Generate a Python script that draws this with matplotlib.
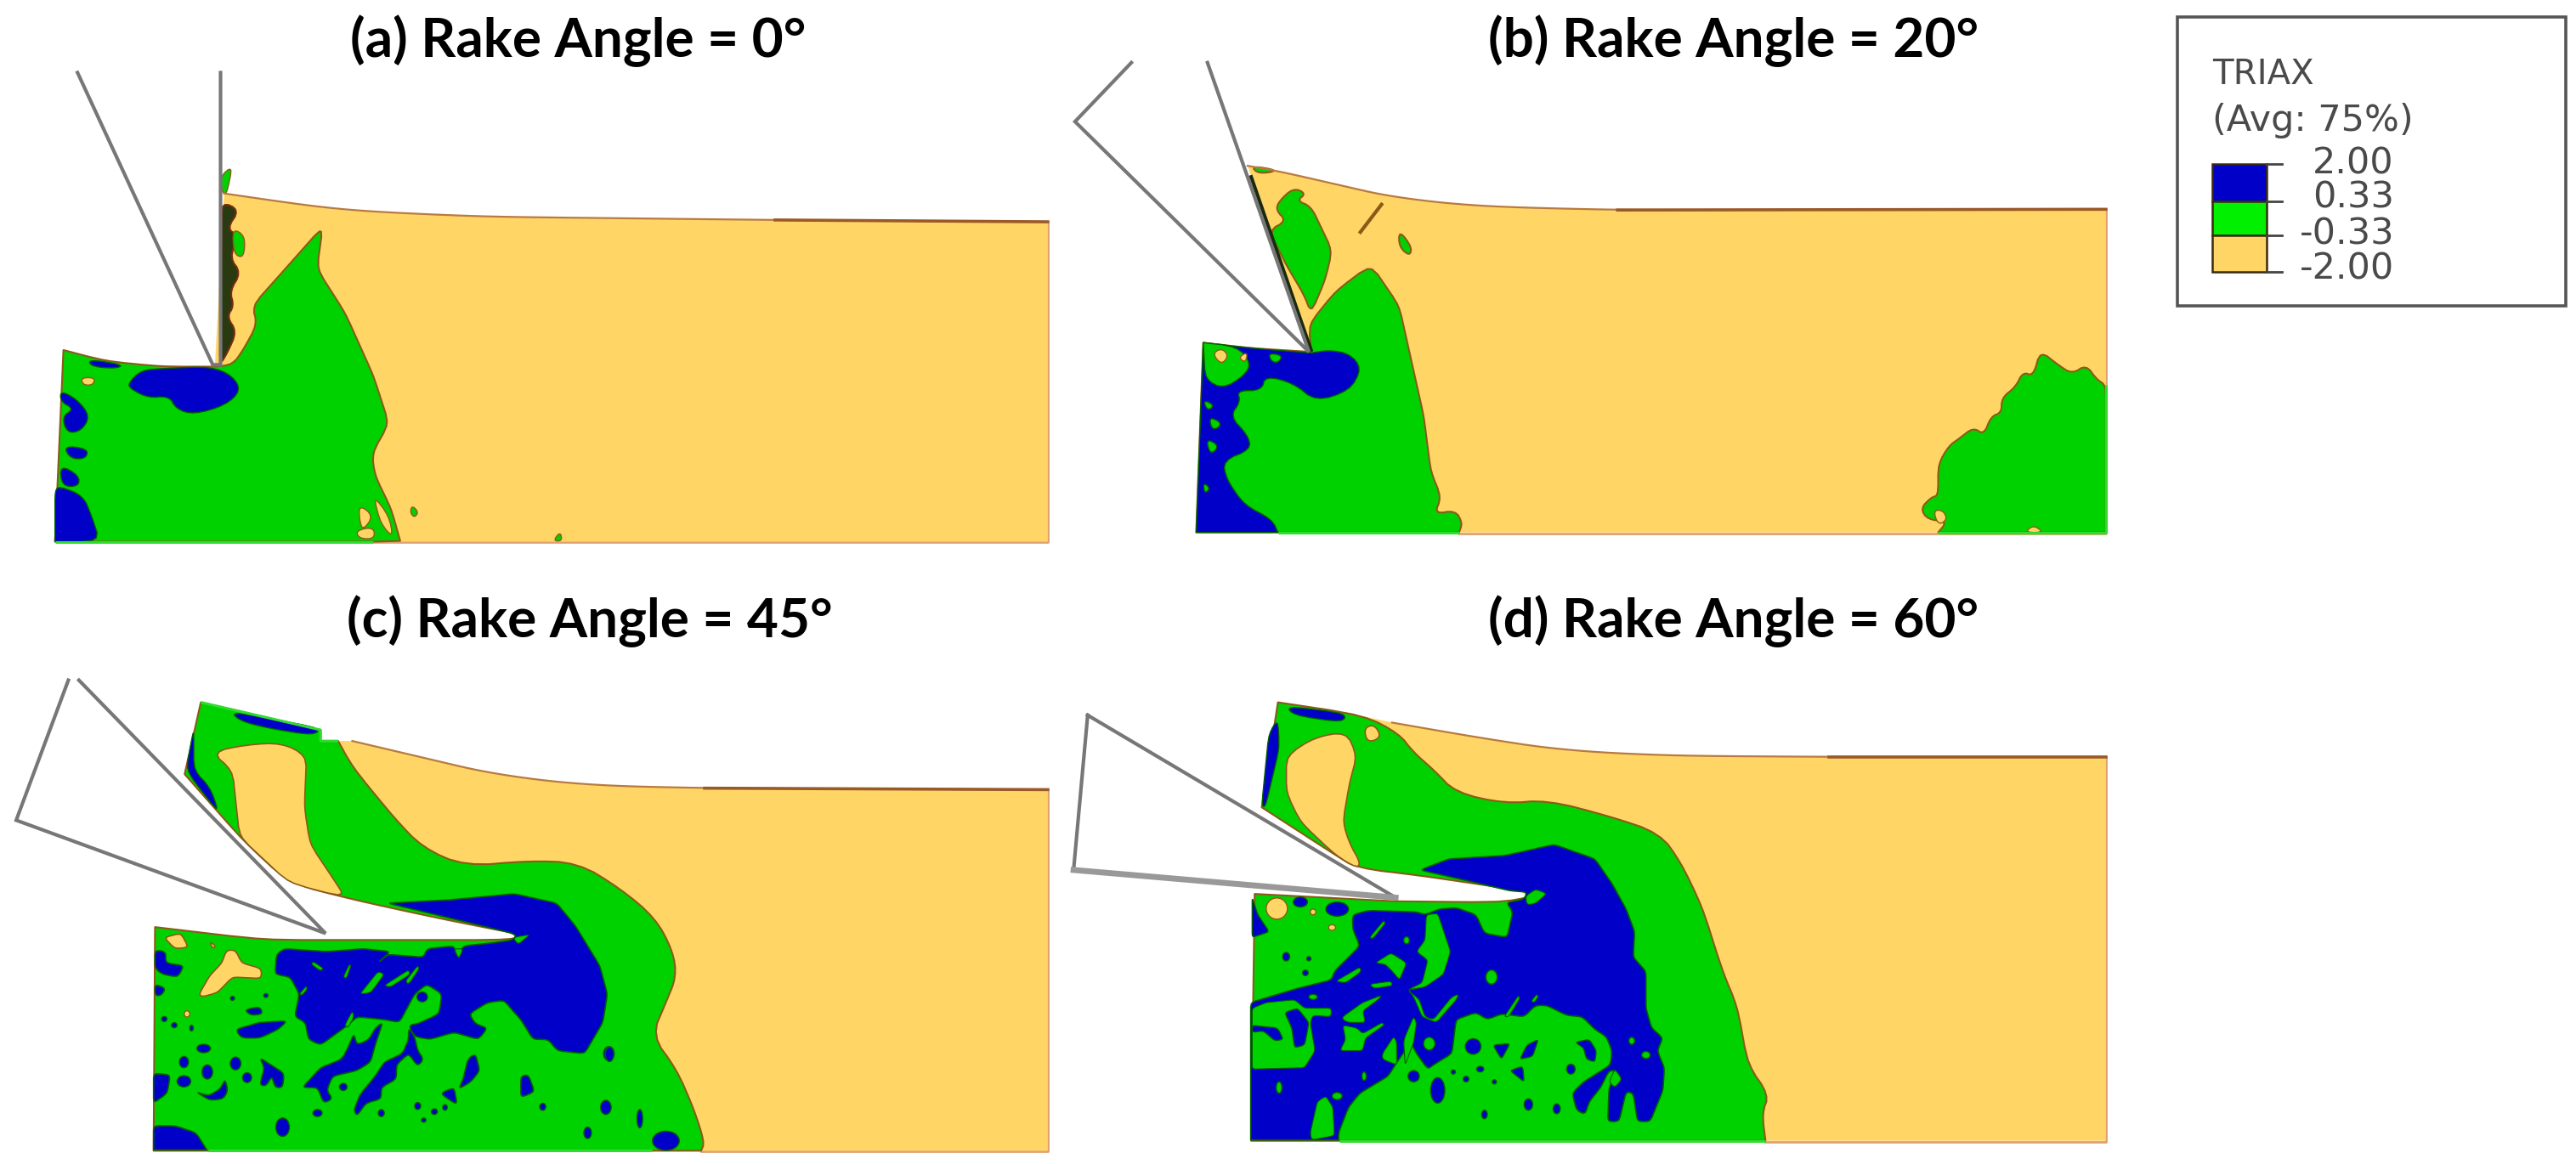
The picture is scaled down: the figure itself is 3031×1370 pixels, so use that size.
import matplotlib
matplotlib.use("Agg")
import matplotlib.pyplot as plt
from matplotlib.patches import Polygon, Ellipse, Rectangle

W, H = 3031, 1370
SX, SY = 1300 / 1568, 680 / 1568
YEL, GRN, BLU = "#FFD666", "#00D200", "#0000C8"
EDGE = "#8A5A18"
BEDGE = "#006000"
TOOL = "#777777"

titles = ["(a) Rake Angle = 0°", "(b) Rake Angle = 20°", "(c) Rake Angle = 45°", "(d) Rake Angle = 60°"]
title_xy = [(680, 48), (2040, 48), (694, 731), (2040, 731)]
offsets = [(0, 0), (1240, 0), (0, 690), (1240, 690)]

legend_title = ["TRIAX", "(Avg: 75%)"]
legend_vals = ["2.00", "0.33", "-0.33", "-2.00"]
legend_cols = [BLU, "#00F000", YEL]

# ---------- panel a
a_sharp = {(1487,602),(1487,1470),(78,1470),(90,950),(305,995),(318,525),(530,1470),(568,1468)}
a_body = [(318,525),(480,570),(680,588),(1100,597),(1487,602),(1487,1470),(78,1470),(90,950),(150,980),(230,995),(305,995)]
a_green = [(78,1470),(90,950),(150,980),(230,995),(305,995),(330,990),(345,950),(365,880),(358,830),(400,740),(458,615),(450,730),(490,850),(530,1020),(552,1150),(528,1230),(532,1290),(555,1380),(568,1468),(530,1470)]
a_blue = [
 [(78,1470),(142,1470),(130,1400),(118,1345),(85,1320),(78,1330)],
 [(182,1040),(200,1005),(230,1000),(300,995),(330,1020),(342,1060),(320,1100),(275,1125),(250,1110),(240,1075),(210,1080),(185,1055)],
 [(86,1060),(110,1085),(128,1130),(115,1170),(95,1175),(88,1130),(105,1110),(86,1090)],
 [(90,1210),(125,1218),(122,1245),(100,1245)],
 [(85,1262),(112,1290),(112,1320),(88,1320)],
 [(125,975),(175,990),(165,1000),(130,995)],
]
a_yel = [[(510,1370),(530,1400),(515,1440),(510,1410)], [(530,1345),(552,1400),(558,1460),(540,1420)], [(505,1440),(530,1430),(532,1462),(510,1462)], [(115,1025),(135,1025),(132,1045),(118,1045)]]
a_gz = [[(312,480),(330,450),(322,525),(316,525)], [(585,1372),(594,1390),(588,1405),(582,1390)], [(785,1468),(795,1443),(798,1468)], [(330,620),(348,640),(346,700),(332,690)]]
a_dark = [(315,548),(340,570),(322,620),(338,640),(326,700),(342,740),(326,790),(332,830),(322,860),(336,900),(322,960),(312,990)]
a_tool = [(110,197),(302,990),(313,990),(313,197)]
a_rim = [[(78,1470),(530,1470)]]

# ---------- panel b
b_sharp = {(275,450),(1493,568),(1493,1445),(202,1445),(212,930),(365,955),(318,1445),(575,1445),(1255,1445),(365,958)}
b_body = [(275,450),(320,465),(400,500),(480,535),(600,560),(800,570),(1493,568),(1493,1445),(202,1445),(212,930),(280,945),(365,955)]
b_green = [
 [(202,1445),(212,930),(280,945),(365,955),(362,880),(400,790),(450,718),(490,830),(525,1130),(535,1280),(550,1350),(540,1395),(570,1385),(580,1420),(575,1445)],
 [(1255,1445),(1268,1415),(1240,1410),(1230,1380),(1245,1350),(1255,1345),(1255,1260),(1270,1210),(1285,1190),(1305,1160),(1320,1180),(1330,1130),(1345,1120),(1345,1080),(1365,1050),(1375,1010),(1390,1020),(1400,952),(1425,990),(1445,1015),(1465,990),(1480,1030),(1493,1045),(1493,1445)],
 [(280,450),(320,463),(290,472)],
 [(320,545),(340,510),(358,525),(345,545),(365,560),(380,620),(395,680),(385,760),(365,850),(355,800),(330,720),(305,625),(330,600),(315,570)],
 [(490,625),(508,670),(505,695),(490,670)],
]
b_blue = [[(202,1445),(318,1445),(310,1410),(270,1370),(245,1300),(240,1250),(280,1220),(275,1180),(250,1130),(265,1090),(260,1060),(295,1060),(300,1020),(340,1040),(372,1090),(420,1060),(437,1000),(420,960),(390,950),(365,958),(280,945),(212,930)]]
b_green2 = [
 [(212,930),(260,940),(280,985),(270,1020),(240,1055),(215,1030)],
 [(305,958),(325,965),(318,985),(308,980)],
 [(212,1085),(228,1100),(218,1115)],
 [(220,1130),(240,1150),(225,1170)],
 [(216,1190),(235,1210),(222,1235)],
 [(212,1310),(222,1325),(214,1340)],
]
b_yel2 = [[(225,960),(238,945),(248,965),(238,990)], [(262,970),(275,955),(272,985)], [(1378,1445),(1390,1425),(1405,1445)], [(1248,1385),(1262,1385),(1268,1410),(1255,1425)]]
b_tool = [(110,170),(30,330),(362,955),(218,170)]
b_rim = [[(318,1445),(575,1445)], [(1255,1445),(1493,1445)], [(1493,1445),(1493,1045)]]

# ---------- panel c (outline, in panel crop units)
c_sharp = {(285,315),(455,390),(455,420),(262,510),(1487,552),(1487,1532),(218,1532),(220,925),(750,945),(995,1532),(500,420),(480,420)}
c_under = [(375,960),(725,960),(750,945),(725,940),(620,900),(500,850),(410,805),(345,690),(262,510)]
c_body = [(285,315),(455,390),(455,420),(500,420),(600,465),(700,510),(830,540),(1000,548),(1487,552),(1487,1532),(218,1532),(220,925)] + c_under
c_green = [(285,315),(455,390),(455,420),(480,420),(500,490),(560,630),(600,710),(660,760),(750,745),(820,750),(880,820),(930,900),(955,990),(960,1060),(945,1130),(925,1220),(960,1310),(985,1420),(1000,1510),(995,1532),(218,1532),(220,925)] + c_under
c_yel = [[(300,450),(350,430),(400,425),(435,460),(432,600),(440,700),(475,800),(490,845),(410,805),(340,680),(330,500)]]
c_blue = [
 [(328,340),(455,385),(445,405),(380,385),(340,365)],
 [(275,385),(264,500),(300,590),(310,610),(298,545),(275,500)],
]
c_right_blobs = [(945,1505,38,52),(908,1445,8,50),(865,1270,12,40)]
c_tool = [(97,255),(23,635),(462,942),(112,255)]
c_rim = [[(295,1532),(925,1532)], [(285,315),(455,390),(455,420),(480,420)]]

# panel c lower region (second crop units)
c2_blue = [
 [(801,-81),(1010,-93),(1218,-114),(1358,-81),(1420,0),(1500,140),(1525,240),(1510,340),(1450,450),(1360,440),(1330,400),(1280,400),(1240,330),(1210,295),(1185,262),(1130,270),(1070,310),(1090,345),(1130,360),(1100,400),(1020,375),(940,400),(890,390),(870,350),(900,345),(970,310),(980,240),(930,205),(890,240),(840,340),(790,330),(700,320),(670,350),(580,420),(540,400),(530,340),(495,320),(510,240),(480,180),(430,170),(435,100),(460,80),(600,90),(720,80),(810,90),(770,130),(800,100),(920,110),(930,80),(1020,70),(1030,110),(1050,70),(1140,60),(1210,50),(1225,35),(1210,25),(1000,-30)],
 [(670,430),(690,380),(700,420),(740,400),(760,360),(785,340),(760,420),(745,480),(700,510),(620,530),(600,580),(620,610),(590,625),(570,570),(520,570),(580,500),(650,470)],
 [(870,360),(890,390),(900,440),(920,470),(900,495),(870,450),(830,490),(830,540),(780,570),(780,610),(730,625),(700,670),(690,650),(710,595),(760,530),(790,480),(850,450),(870,400)],
 [(300,365),(380,340),(470,335),(440,365),(380,395),(320,395)],
 [(330,295),(380,285),(390,310),(350,315)],
 [(1050,540),(1065,470),(1090,450),(1105,510),(1075,550),(1035,575)],
 [(975,590),(1020,570),(1030,630),(1000,610)],
 [(1240,530),(1265,525),(1285,585),(1240,605)],
 [(30,520),(85,525),(75,590),(30,625)],
 [(35,85),(70,90),(70,130),(130,140),(110,180),(60,170),(35,150)],
 [(35,205),(70,220),(55,245),(35,245)],
 [(30,705),(100,705),(170,730),(205,790),(30,790)],
 [(380,465),(460,520),(455,570),(430,570),(420,530),(400,565),(380,560),(395,500)],
 [(170,585),(210,600),(250,575),(265,540),(275,580),(260,610),(215,615)],
]
c2_green = [
 [(1215,40),(1270,30),(1230,65)],
 [(555,125),(590,150),(580,158),(550,135)],
 [(655,180),(675,135),(680,140),(665,185)],
 [(710,240),(770,160),(790,170),(745,235)],
 [(790,210),(870,155),(875,170),(810,215)],
 [(860,195),(900,140),(905,150),(870,205)],
 [(510,240),(535,210),(535,225),(518,245)],
 [(660,350),(685,300),(690,320),(670,360)],
 [(1020,80),(1050,80),(1035,115)],
]
c2_yel = [
 [(65,40),(120,25),(145,75),(100,80)],
 [(215,55),(235,70),(225,80)],
 [(180,240),(215,175),(255,130),(270,85),(300,85),(320,130),(385,150),(385,185),(290,180),(240,235),(190,250)],
]
c2_blobs = [(1530,450,35,50),(1520,640,35,50),(1460,730,25,40),(1312,638,20,25),(900,635,20,25),(955,655,20,20),(990,640,15,20),(920,685,15,15),(780,660,20,25),
            (570,660,30,25),(455,710,45,65),(655,568,25,25),(915,250,35,35),(195,432,45,30),(130,480,30,40),(300,485,35,45),(207,515,35,50),(130,548,45,40),(338,535,30,35),
            (65,328,18,18),(98,350,18,18),(155,360,12,20),(290,255,14,14),(400,245,14,14)]
c2_yblobs = [(140,310,18,22)]

# ---------- panel d
d_sharp = {(318,315),(1493,463),(1493,1505),(280,1505),(285,835),(700,830),(485,855),(295,600),(1010,1505)}
d_under = [(485,855),(645,858),(700,830),(660,825),(520,785),(430,765),(400,730),(295,600)]
d_body = [(318,315),(420,345),(480,370),(600,410),(720,445),(870,460),(1100,463),(1493,463),(1493,1505),(280,1505),(285,835)] + d_under
d_green = [(318,315),(440,350),(490,400),(510,450),(540,500),(570,560),(640,590),(700,580),(790,625),(860,670),(890,750),(920,870),(950,1050),(970,1140),(985,1300),(1015,1380),(1005,1430),(1010,1505),(280,1505),(285,835)] + d_under
d_yel = [[(330,460),(370,410),(415,395),(430,460),(420,530),(410,640),(420,700),(435,750),(430,765),(400,730),(350,640),(330,560)],
         [(440,385),(455,375),(465,410),(445,425)]]
d_blue = [
 [(330,325),(415,345),(410,370),(340,350)],
 [(305,400),(318,360),(320,440),(300,600),(295,595)],
]
d_tool = [(48,350),(28,770),(485,845),(48,350)]
d_rim = [[(405,1505),(1010,1505)]]

# panel d lower region (first crop units)
d2_sharp = {(35,905),(35,670),(345,905)}
d2_blue = [
 [(633,-48),(733,-87),(932,-99),(1106,-138),(1250,-87),(1310,0),(1360,90),(1390,170),(1385,260),(1430,310),(1430,440),(1450,510),(1490,545),(1470,590),(1495,650),(1490,730),(1445,840),(1400,840),(1385,740),(1360,735),(1335,840),(1295,840),(1300,720),(1330,660),(1300,660),(1270,720),(1230,770),(1215,815),(1185,800),(1170,740),(1210,700),(1305,640),(1310,590),(1290,540),(1250,515),(1205,470),(1150,465),(1080,430),(1040,430),(1000,470),(920,460),(870,480),(830,455),(760,480),(745,600),(680,640),(660,655),(620,600),(600,560),(545,640),(520,680),(420,740),(380,790),(345,880),(345,905),(35,905),(35,670),(35,420),(100,400),(200,370),(320,340),(330,310),(420,220),(395,160),(395,110),(450,95),(620,100),(650,110),(700,90),(760,85),(830,110),(860,175),(940,190),(960,100),(940,70),(950,65),(1000,55),(1010,30),(950,25),(800,-10)],
]
d2_green = [
 [(40,440),(90,420),(190,410),(225,440),(320,440),(318,470),(255,465),(245,490),(262,590),(225,650),(40,655)],
 [(1005,45),(1040,20),(1080,35),(1040,70),(1010,75)],
 [(455,190),(505,130),(510,140),(465,195)],
 [(655,110),(695,105),(740,240),(715,320),(650,365),(590,375),(630,410),(650,470),(680,480),(745,400),(770,390),(760,410),(690,490),(640,470),(610,400),(590,375),(640,350),(660,270),(620,240),(650,200)],
 [(475,280),(530,245),(585,280),(560,340),(535,310),(510,285)],
 [(335,345),(420,295),(425,310),(370,350)],
 [(455,355),(530,345),(535,360),(470,370)],
 [(360,470),(430,420),(495,395),(490,405),(430,450),(440,490),(380,490),(360,480)],
 [(360,500),(410,510),(430,530),(500,490),(505,500),(440,545),(430,590),(350,590),(370,550)],
 [(500,600),(540,540),(550,560),(550,640),(500,620)],
 [(580,540),(610,470),(620,490),(610,560),(580,640),(575,560)],
 [(930,470),(980,395),(985,405),(945,470)],
 [(1025,415),(1045,390),(1050,400),(1035,420)],
 [(1320,655),(1345,690),(1320,720),(1300,700)],
 [(245,880),(270,770),(300,750),(325,790),(330,890),(250,905)],
]
d2_blue2 = [
 [(155,455),(200,440),(240,490),(235,520),(225,570),(190,580),(180,510)],
 [(40,500),(80,505),(130,510),(150,550),(120,555),(80,520),(40,525)],
 [(890,570),(950,565),(920,620)],
 [(985,620),(1010,570),(1050,550),(1030,610)],
 [(950,660),(995,645),(1000,700)],
 [(1180,560),(1230,550),(1255,590),(1250,630),(1220,620),(1210,580)],
 [(40,50),(60,110),(100,170),(40,190)],
]
d2_gblobs = [(885,330,40,50),(665,565,40,45),(1430,605,30,25),(1380,555,20,25),(135,720,20,40),(435,680,15,30),(340,750,35,25),(585,200,20,25),(255,400,30,18)]
d2_blobs = [(820,575,55,55),(610,680,40,40),(695,730,50,90),(750,665,15,15),(845,655,25,20),(795,690,20,20),(1165,655,30,35),(1015,780,30,40),(1115,795,25,35),
            (860,815,20,30),(895,700,15,15),(210,65,50,35),(340,90,80,50),(160,258,25,30),(228,315,20,20),(240,265,15,15)]
d2_yblobs = [(127,88,75,75),(255,100,20,20),(322,155,25,20)]


def smooth(pts, sharp=frozenset(), n=2, frac=0.25, cap=14.0):
    pts = [tuple(p) for p in pts]
    for _ in range(n):
        new = []
        m = len(pts)
        for i, p in enumerate(pts):
            if p in sharp:
                new.append(p)
                continue
            for q in (pts[i - 1], pts[(i + 1) % m]):
                dx, dy = q[0] - p[0], q[1] - p[1]
                d = (dx * dx + dy * dy) ** 0.5
                f = min(frac, cap / d) if d > 0 else 0
                new.append((p[0] + f * dx, p[1] + f * dy))
        pts = new
    return pts


def P(off, pts, sx=SX, sy=SY):
    return [(off[0] + x * sx, off[1] + y * sy) for x, y in pts]

fig = plt.figure(figsize=(W / 100, H / 100), dpi=100, facecolor="white")
ax = fig.add_axes([0, 0, 1, 1])
ax.set_xlim(0, W)
ax.set_ylim(H, 0)
ax.axis("off")


def fill(off, pts, col, sharp=frozenset(), ec=None, lw=1.5, z=2, sx=SX, sy=SY, cap=14.0):
    ax.add_patch(Polygon(P(off, smooth(pts, sharp, cap=cap), sx, sy), closed=True, fc=col, ec=ec if ec else "none", lw=lw, zorder=z, joinstyle="round"))


def blobs(off, items, col, ec, z, sx, sy):
    for x, y, w, h in items:
        ax.add_patch(Ellipse((off[0] + x * sx, off[1] + y * sy), w * sx, h * sy, fc=col, ec=ec, lw=1.0, zorder=z))


def tool(off, pts, lw=3.0):
    ax.plot(*zip(*P(off, pts)), color=TOOL, lw=lw, zorder=8, solid_joinstyle="miter")


def top(off, pts):
    xy = P(off, smooth(pts, {pts[0], pts[-1]}, n=3, cap=40.0))
    ax.plot(*zip(*xy), color="#B87A40", lw=1.6, zorder=7)
    ax.plot(*zip(*P(off, pts[-2:])), color="#9A5A28", lw=2.6, zorder=7)


def rims(off, lines, right):
    for line in lines:
        ax.plot(*zip(*P(off, line)), color="#30DC30", lw=2.2, zorder=7, solid_capstyle="butt")
    ax.plot(*zip(*P(off, right)), color="#E0A070", lw=2.0, zorder=1.5)


# panel a
o = offsets[0]
fill(o, a_body, YEL, a_sharp)
fill(o, a_green, GRN, a_sharp, EDGE, z=3)
for p in a_blue:
    fill(o, p, BLU, a_sharp, BEDGE, 1.0, z=4)
for p in a_yel:
    fill(o, p, YEL, a_sharp, EDGE, 1.0, z=5)
fill(o, a_dark, "#2A3A10", a_sharp, "#7A2A10", 1.5, z=5)
for p in a_gz:
    fill(o, p, GRN, a_sharp, EDGE, 1.0, z=6)
top(o, a_body[:5])
rims(o, a_rim, [(1487, 602), (1487, 1472), (530, 1472)])
tool(o, a_tool)

# panel b
o = offsets[1]
fill(o, b_body, YEL, b_sharp)
for p in b_green:
    fill(o, p, GRN, b_sharp, EDGE, z=3)
for p in b_blue:
    fill(o, p, BLU, b_sharp, BEDGE, 1.0, z=4)
for p in b_green2:
    fill(o, p, GRN, b_sharp, BEDGE, 1.0, z=5)
for p in b_yel2:
    fill(o, p, YEL, b_sharp, EDGE, 1.0, z=6)
ax.plot(*zip(*P(o, [(280, 480), (365, 950)])), color="#1A2A10", lw=3, zorder=6)
ax.plot(*zip(*P(o, [(435, 630), (465, 555)])), color="#8A5A18", lw=3, zorder=6)
top(o, b_body[:7])
rims(o, b_rim, [(1493, 568), (1493, 1447), (575, 1447)])
tool(o, b_tool)

# panel c
o = offsets[2]
fill(o, c_body, YEL, c_sharp)
fill(o, c_green, GRN, c_sharp, EDGE, z=3, cap=25.0)
for p in c_yel:
    fill(o, p, YEL, c_sharp, EDGE, 1.2, z=4)
for p in c_blue:
    fill(o, p, BLU, c_sharp, BEDGE, 1.0, z=5)
o2 = (170, 1090)
sx2, sy2 = 1 / 2.8, 1 / 3
for p in c2_blue:
    fill(o2, p, BLU, {(30, 790), (205, 790)}, BEDGE, 1.2, z=5, sx=sx2, sy=sy2, cap=8.0)
for p in c2_green:
    fill(o2, p, GRN, ec=BEDGE, lw=0.8, z=6, sx=sx2, sy=sy2, cap=6.0)
for p in c2_yel:
    fill(o2, p, YEL, ec=EDGE, lw=1.2, z=6, sx=sx2, sy=sy2, cap=8.0)
blobs(o2, c2_blobs, BLU, BEDGE, 6, sx2, sy2)
blobs(o2, c2_yblobs, YEL, EDGE, 6, sx2, sy2)
blobs(o, c_right_blobs, BLU, BEDGE, 6, SX, SY)
top(o, c_body[3:9])
rims(o, c_rim, [(1487, 552), (1487, 1534), (995, 1534)])
tool(o, c_tool)

# panel d
o = offsets[3]
fill(o, d_body, YEL, d_sharp)
fill(o, d_green, GRN, d_sharp, EDGE, z=3, cap=25.0)
for p in d_yel:
    fill(o, p, YEL, d_sharp, EDGE, 1.2, z=4)
for p in d_blue:
    fill(o, p, BLU, d_sharp, BEDGE, 1.0, z=5)
o3 = (1460, 1040)
sx3 = sy3 = 1 / 3
for p in d2_blue:
    fill(o3, p, BLU, d2_sharp, BEDGE, 1.2, z=5, sx=sx3, sy=sy3, cap=8.0)
for p in d2_green:
    fill(o3, p, GRN, ec=BEDGE, lw=0.8, z=6, sx=sx3, sy=sy3, cap=6.0)
for p in d2_blue2:
    fill(o3, p, BLU, ec=BEDGE, lw=1.0, z=7, sx=sx3, sy=sy3, cap=6.0)
blobs(o3, d2_blobs, BLU, BEDGE, 7, sx3, sy3)
blobs(o3, d2_gblobs, GRN, BEDGE, 7, sx3, sy3)
blobs(o3, d2_yblobs, YEL, EDGE, 7, sx3, sy3)
top(o, d_body[2:8])
rims(o, d_rim, [(1493, 463), (1493, 1507), (1010, 1507)])
tool(o, d_tool)
ax.plot(*zip(*P(o, [(28, 770), (485, 845)])), color="#999999", lw=5, zorder=8)

for t, (x, y) in zip(titles, title_xy):
    ax.text(x, y, t, family="Lato", weight="bold", fontsize=46, ha="center", va="center", color="black", zorder=10)

# legend
ax.add_patch(Rectangle((2562, 20), 457, 340, fc="white", ec="#555555", lw=2.6, zorder=8))
ax.text(2603, 88, legend_title[0], family="DejaVu Sans", fontsize=29, va="center", ha="left", color="#4A4A4A", zorder=9)
ax.text(2603, 142, legend_title[1], family="DejaVu Sans", fontsize=31, va="center", ha="left", color="#4A4A4A", zorder=9)
edges = [193, 237, 277, 320]
for i, c in enumerate(legend_cols):
    ax.add_patch(Rectangle((2603, edges[i]), 64, edges[i + 1] - edges[i], fc=c, ec="#3A2A10", lw=1.8, zorder=9))
for e in edges:
    ax.plot([2667, 2685], [e, e], color="#444444", lw=2, zorder=9)
for v, yy in zip(legend_vals, [192, 232, 275, 316]):
    ax.text(2817, yy, v, family="DejaVu Sans", fontsize=31, va="center", ha="right", color="#4A4A4A", zorder=9)

fig.savefig("out.png", dpi=100, facecolor="white")
